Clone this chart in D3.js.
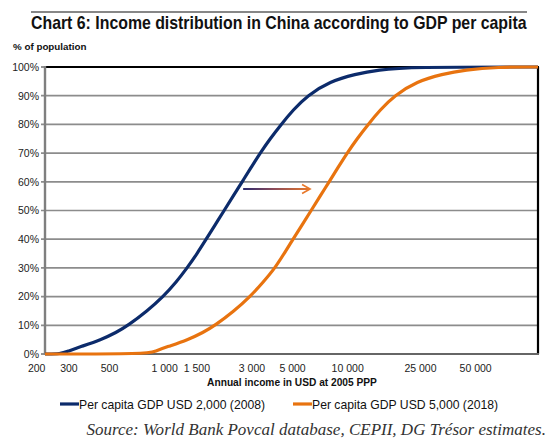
<!DOCTYPE html>
<html>
<head>
<meta charset="utf-8">
<script src="https://cdn.jsdelivr.net/npm/d3@7"></script>
<style>
  html, body { margin: 0; padding: 0; background: #fff; }
  svg { display: block; }
</style>
</head>
<body>
<svg id="chart" width="552" height="441"></svg>
<script>
// ---- Data ----
const xTickValues = [200, 300, 500, 1000, 1500, 3000, 5000, 10000, 25000, 50000];
const xTickLabels = ["200", "300", "500", "1 000", "1 500", "3 000", "5 000", "10 000", "25 000", "50 000"];
const yTickValues = [0, 10, 20, 30, 40, 50, 60, 70, 80, 90, 100];
const yTickLabels = ["0%", "10%", "20%", "30%", "40%", "50%", "60%", "70%", "80%", "90%", "100%"];

// Per capita GDP USD 2,000 (2008): annual income (USD 2005 PPP) vs cumulative % of population
const income2008 = [222, 270, 297, 346, 450, 544, 632, 803, 982, 1156, 1327, 1505, 1686, 1888, 2114, 2367, 2651, 2969, 3324, 3771, 4329, 5034, 6003, 8016, 10978, 14664, 21920, 109600];
const share2008  = [0,   0,   1,   2.5, 5,   7.5, 10,  15,  20,  25,   30,   35,   40,   45,   50,   55,   60,   65,   70,   75,   80,   85,   90,   95,   97.5,  99,    100,   100];

// Per capita GDP USD 5,000 (2018)
const income2018 = [222, 810, 888, 1032, 1344, 1623, 1888, 2397, 2932, 3452, 4014, 4494, 5034, 5638, 6314, 7070, 7916, 8863, 9927, 11258, 12928, 15033, 17929, 23940, 32790, 43790, 65480, 109600];
const share2018  = [0,   0,   1,   2.5,  5,    7.5,  10,   15,   20,   25,   30,   35,   40,   45,   50,   55,   60,   65,   70,   75,    80,    85,    90,    95,    97.5,  99,    100,   100];

const seriesNames = ["Per capita GDP USD 2,000 (2008)", "Per capita GDP USD 5,000 (2018)"];
const seriesColors = ["#0c2b6b", "#e8730f"];

const arrowIncome = [2685, 6232];
const arrowShare = 57.5;

const titleText = "Chart 6: Income distribution in China according to GDP per capita";
const yAxisTitle = "% of population";
const xAxisTitle = "Annual income in USD at 2005 PPP";
const sourceText = "Source: World Bank Povcal database, CEPII, DG Trésor estimates.";

// ---- Layout ----
const svg = d3.select("#chart");
const plot = { left: 45, right: 538, top: 67, bottom: 354 };

const x = d3.scaleLog().domain([222, 109600]).range([plot.left, plot.right]);
const y = d3.scaleLinear().domain([0, 100]).range([plot.bottom, plot.top]);

function fitWidth(sel, target) {
  const w = sel.node().getComputedTextLength();
  const fs = +sel.attr("font-size");
  sel.attr("font-size", fs * target / w);
}

// Title rule
svg.append("line").attr("x1", 31).attr("x2", 527).attr("y1", 12).attr("y2", 12)
  .attr("stroke", "#111").attr("stroke-width", 1.2);

// Title (condensed bold look via horizontal scaling)
const titleG = svg.append("g");
const title = titleG.append("text")
  .attr("x", 0).attr("y", 0)
  .attr("font-family", "'Liberation Sans', Arial, sans-serif")
  .attr("font-weight", "bold").attr("font-size", 17.5).attr("fill", "#111")
  .text(titleText);
const tw = title.node().getComputedTextLength();
titleG.attr("transform", `translate(31,29) scale(${496 / tw},1)`);

// Y axis title
svg.append("text").attr("x", 13).attr("y", 50)
  .attr("font-family", "'Liberation Sans', Arial, sans-serif")
  .attr("font-weight", "bold").attr("font-size", 9.8).attr("fill", "#111")
  .text(yAxisTitle);

// Gridlines
svg.append("g").selectAll("line").data(yTickValues.filter(v => v > 0 && v < 100)).join("line")
  .attr("x1", plot.left - 4).attr("x2", plot.right)
  .attr("y1", d => y(d)).attr("y2", d => y(d))
  .attr("stroke", "#8c8c8c").attr("stroke-width", 1.7);

// Y tick marks at 0 and 100
svg.append("g").selectAll("line").data([0, 100]).join("line")
  .attr("x1", plot.left - 4).attr("x2", plot.left)
  .attr("y1", d => y(d)).attr("y2", d => y(d))
  .attr("stroke", "#7f7f7f").attr("stroke-width", 1.7);

// Y labels
svg.append("g").selectAll("text").data(yTickValues).join("text")
  .attr("x", 39).attr("y", d => y(d) + 3.8)
  .attr("text-anchor", "end")
  .attr("font-family", "'Liberation Sans', Arial, sans-serif")
  .attr("font-size", 10.5).attr("fill", "#222")
  .text((d, i) => yTickLabels[i]);

// Plot frame: top black, right black, left gray, bottom gray
svg.append("line").attr("x1", plot.left).attr("x2", plot.right + 1).attr("y1", y(100)).attr("y2", y(100))
  .attr("stroke", "#000").attr("stroke-width", 2.2);
svg.append("line").attr("x1", plot.right).attr("x2", plot.right).attr("y1", y(100)).attr("y2", y(0))
  .attr("stroke", "#000").attr("stroke-width", 2.2);
svg.append("line").attr("x1", plot.left).attr("x2", plot.left).attr("y1", y(100) - 1).attr("y2", y(0) + 1)
  .attr("stroke", "#7f7f7f").attr("stroke-width", 2.4);
svg.append("line").attr("x1", plot.left).attr("x2", plot.right + 1).attr("y1", y(0)).attr("y2", y(0))
  .attr("stroke", "#666").attr("stroke-width", 2.2);

// X tick labels
svg.append("g").selectAll("text").data(xTickValues).join("text")
  .attr("x", d => x(d)).attr("y", 372)
  .attr("text-anchor", "middle")
  .attr("font-family", "'Liberation Sans', Arial, sans-serif")
  .attr("font-size", 10.5).attr("fill", "#222")
  .text((d, i) => xTickLabels[i]);

// X axis title
const xt = svg.append("text").attr("x", 292).attr("y", 386)
  .attr("text-anchor", "middle")
  .attr("font-family", "'Liberation Sans', Arial, sans-serif")
  .attr("font-weight", "bold").attr("font-size", 9).attr("fill", "#111")
  .text(xAxisTitle);
fitWidth(xt, 170);

// Series
const line = d3.line().x(d => x(d[0])).y(d => y(d[1])).curve(d3.curveBasis);
const series = [
  d3.zip(income2008, share2008),
  d3.zip(income2018, share2018)
];
svg.append("path").datum(series[0]).attr("d", line)
  .attr("fill", "none").attr("stroke", seriesColors[0]).attr("stroke-width", 3.2)
  .attr("stroke-linejoin", "round");
svg.append("path").datum(series[1]).attr("d", line)
  .attr("fill", "none").attr("stroke", seriesColors[1]).attr("stroke-width", 3.2)
  .attr("stroke-linejoin", "round");

// Arrow with gradient
const defs = svg.append("defs");
const grad = defs.append("linearGradient").attr("id", "arrowGrad")
  .attr("gradientUnits", "userSpaceOnUse")
  .attr("x1", x(arrowIncome[0])).attr("x2", x(arrowIncome[1]))
  .attr("y1", 0).attr("y2", 0);
grad.append("stop").attr("offset", "0%").attr("stop-color", "#2a2a6e");
grad.append("stop").attr("offset", "45%").attr("stop-color", "#8a4a5a");
grad.append("stop").attr("offset", "100%").attr("stop-color", "#e8782a");
const ax0 = x(arrowIncome[0]), ax1 = x(arrowIncome[1]), ay = y(arrowShare);
svg.append("line").attr("x1", ax0).attr("x2", ax1 - 1).attr("y1", ay).attr("y2", ay)
  .attr("stroke", "url(#arrowGrad)").attr("stroke-width", 2.2);
svg.append("path")
  .attr("d", `M${ax1 - 8},${ay - 4.5} L${ax1},${ay} L${ax1 - 8},${ay + 4.5}`)
  .attr("fill", "none").attr("stroke", "#e8782a").attr("stroke-width", 1.6)
  .attr("stroke-linejoin", "miter");

// Legend
const legend = [
  { x0: 60, tx: 79 },
  { x0: 293, tx: 312 }
];
legend.forEach((l, i) => {
  svg.append("line").attr("x1", l.x0).attr("x2", l.x0 + 19).attr("y1", 404).attr("y2", 404)
    .attr("stroke", seriesColors[i]).attr("stroke-width", 3.2);
  svg.append("text").attr("x", l.tx).attr("y", 408.5)
    .attr("font-family", "'Liberation Sans', Arial, sans-serif")
    .attr("font-size", 12.2).attr("fill", "#111")
    .text(seriesNames[i]);
});

// Source
const src = svg.append("text").attr("x", 546).attr("y", 435)
  .attr("text-anchor", "end")
  .attr("font-family", "'Liberation Serif', 'Times New Roman', serif")
  .attr("font-style", "italic").attr("font-size", 16).attr("fill", "#333")
  .text(sourceText);
fitWidth(src, 460);
</script>
</body>
</html>
